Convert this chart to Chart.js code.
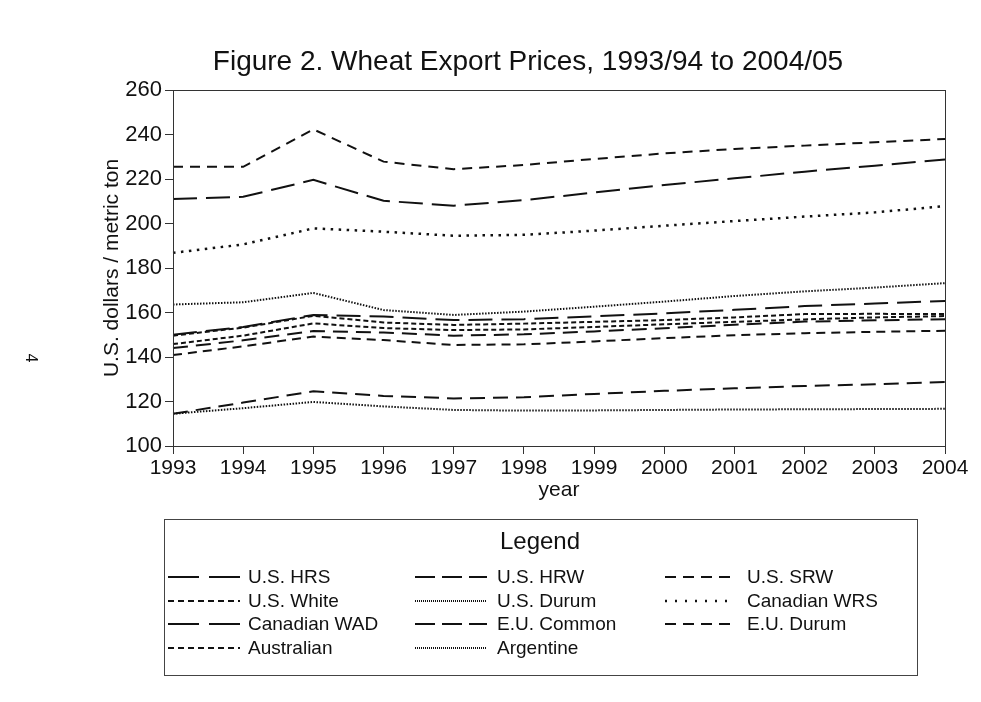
<!DOCTYPE html>
<html>
<head>
<meta charset="utf-8">
<script src="https://cdn.jsdelivr.net/npm/chart.js@4.4.0/dist/chart.umd.min.js"></script>
<style>
    html, body { margin: 0; padding: 0; background: #fff; }
    #wrap { width: 981px; height: 702px; position: relative; }
</style>
</head>
<body>
<div id="wrap"><canvas id="wheatChart"></canvas></div>
<script>
// Wheat export prices, US$ / metric ton

var years = ['1993', '1994', '1995', '1996', '1997', '1998', '1999', '2000', '2001', '2002', '2003', '2004'];
var yTicks = [100, 120, 140, 160, 180, 200, 220, 240, 260];

var usHRS       = [150, 153.5, 158.9, 158.2, 156.6, 157, 158.3, 159.6, 161.2, 162.9, 164, 165.2];
var usHRW       = [144, 147.5, 151.7, 151, 149.6, 150.2, 151.5, 152.9, 154.5, 155.9, 156.5, 157];
var usSRW       = [140.9, 144.8, 149.2, 147.6, 145.4, 145.7, 147, 148.5, 149.8, 150.7, 151.3, 151.8];
var usWhite     = [145.8, 149.6, 155.1, 153, 152.1, 152.4, 153.5, 154.7, 155.8, 156.9, 157.8, 158.4];
var usDurum     = [163.6, 164.6, 168.8, 161.1, 158.9, 160.4, 162.6, 164.9, 167.4, 169.5, 171.2, 173.2];
var canadianWRS = [186.8, 190.6, 197.8, 196.3, 194.5, 194.9, 196.8, 199, 201.1, 203.1, 205, 207.8];
var canadianWAD = [211, 212, 219.6, 210.2, 208, 210.5, 213.9, 217.3, 220.3, 223.3, 226, 228.8];
var euCommon    = [114.5, 119.5, 124.6, 122.5, 121.4, 121.9, 123.4, 124.8, 125.9, 127, 127.7, 128.8];
var euDurum     = [225.5, 225.5, 242.3, 227.8, 224.4, 226.3, 229, 231.5, 233.5, 235, 236.5, 238];
var australian  = [149.6, 153.2, 158.5, 155.5, 154.4, 155, 155.8, 156.6, 157.8, 159.3, 159.4, 159.3];
var argentine   = [114.5, 117, 119.8, 117.8, 116.2, 115.9, 116, 116.2, 116.4, 116.5, 116.6, 116.7];

var FONT = '"Liberation Sans", Arial, Helvetica, sans-serif';
var TITLE = 'Figure 2. Wheat Export Prices, 1993/94 to 2004/05';

// line styles: dash in the plot, dash in the legend key
var styles = {
    longDash:  { dash: [24, 9],  key: [31, 10], width: 2 },
    midDash:   { dash: [15, 8],  key: [20, 7],  width: 2 },
    shortDash: { dash: [10, 7],  key: [11, 7],  width: 2 },
    fineDash:  { dash: [5, 3],   key: [6, 4],   width: 2 },
    fineDots:  { dash: [1.5, 1.5], key: [1, 1], width: 2 },
    wideDots:  { dash: [2.5, 5.5], key: [2, 8], width: 2.5 }
};

function line(label, data, style, dash) {
    var s = styles[style];
    return {
        label: label,
        data: data,
        keyDash: s.key,
        borderColor: '#111',
        backgroundColor: '#111',
        borderWidth: s.width,
        borderDash: dash || s.dash,
        borderCapStyle: 'butt',
        pointRadius: 0,
        tension: 0,
        fill: false
    };
}

// title, frame round the plot area
var plotFrame = {
    id: 'plotFrame',
    afterDatasetsDraw: function (chart) {
        var a = chart.chartArea, ctx = chart.ctx;
        ctx.save();
        ctx.strokeStyle = '#333';
        ctx.lineWidth = 1;
        ctx.strokeRect(Math.round(a.left) + 0.5, Math.round(a.top) + 0.5,
            Math.round(a.right - a.left), Math.round(a.bottom - a.top));
        ctx.fillStyle = '#111';
        ctx.font = '28px ' + FONT;
        ctx.textAlign = 'center';
        ctx.textBaseline = 'middle';
        ctx.fillText(TITLE, 528, 62);
        ctx.restore();
    }
};

// boxed legend in three columns below the chart
var legendBox = {
    id: 'legendBox',
    afterDraw: function (chart) {
        var ctx = chart.ctx;
        ctx.save();
        ctx.strokeStyle = '#444';
        ctx.lineWidth = 1;
        ctx.strokeRect(164.5, 519.5, 753, 156);
        ctx.fillStyle = '#111';
        ctx.font = '24px ' + FONT;
        ctx.textAlign = 'center';
        ctx.textBaseline = 'middle';
        ctx.fillText('Legend', 540, 542);

        ctx.font = '19px ' + FONT;
        ctx.textAlign = 'left';
        var colX = [168, 415, 665];
        var keyW = [72, 72, 65];
        var textX = [248, 497, 747];
        var rowY = [577, 601, 624, 648];
        chart.data.datasets.forEach(function (ds, i) {
            var c = i % 3, r = Math.floor(i / 3);
            ctx.strokeStyle = '#111';
            ctx.lineWidth = ds.borderWidth;
            ctx.setLineDash(ds.keyDash);
            ctx.beginPath();
            ctx.moveTo(colX[c], rowY[r]);
            ctx.lineTo(colX[c] + keyW[c], rowY[r]);
            ctx.stroke();
            ctx.setLineDash([]);
            ctx.fillText(ds.label, textX[c], rowY[r] + 1);
        });

        // page number in the margin
        ctx.save();
        ctx.translate(30, 358);
        ctx.rotate(Math.PI / 2);
        ctx.font = '16px ' + FONT;
        ctx.textAlign = 'center';
        ctx.fillText('4', 0, 0);
        ctx.restore();

        ctx.restore();
    }
};

var ctx = document.getElementById('wheatChart').getContext('2d');
var myChart = new Chart(ctx, {
    type: 'line',
    data: {
        labels: years,
        datasets: [
            line('U.S. HRS', usHRS, 'longDash'),
            line('U.S. HRW', usHRW, 'midDash'),
            line('U.S. SRW', usSRW, 'shortDash', [9, 6]),
            line('U.S. White', usWhite, 'fineDash'),
            line('U.S. Durum', usDurum, 'fineDots'),
            line('Canadian WRS', canadianWRS, 'wideDots'),
            line('Canadian WAD', canadianWAD, 'longDash'),
            line('E.U. Common', euCommon, 'midDash'),
            line('E.U. Durum', euDurum, 'shortDash'),
            line('Australian', australian, 'fineDash'),
            line('Argentine', argentine, 'fineDots')
        ]
    },
    options: {
        responsive: true,
        maintainAspectRatio: false,
        animation: false,
        layout: {
            padding: { top: 90, left: 0, right: 36, bottom: 186 }
        },
        plugins: {
            legend: { display: false },
            tooltip: { enabled: false },
            title: { display: false }
        },
        scales: {
            x: {
                type: 'category',
                offset: false,
                afterFit: function (scale) { scale.height = 70; },
                grid: {
                    drawOnChartArea: false,
                    drawTicks: true,
                    tickLength: 8,
                    color: '#333'
                },
                border: { display: true, color: '#333', width: 1 },
                ticks: {
                    color: '#111',
                    padding: 2,
                    maxRotation: 0,
                    autoSkip: false,
                    font: { family: FONT, size: 21 }
                },
                title: {
                    display: true,
                    text: 'year',
                    color: '#111',
                    font: { family: FONT, size: 21 },
                    padding: { top: 0, bottom: 13 }
                }
            },
            y: {
                min: 100,
                max: 260,
                afterFit: function (scale) { scale.width = 173; },
                afterBuildTicks: function (scale) {
                    scale.ticks = yTicks.map(function (v) { return { value: v }; });
                },
                grid: {
                    drawOnChartArea: false,
                    drawTicks: true,
                    tickLength: 8,
                    color: '#333'
                },
                border: { display: true, color: '#333', width: 1 },
                ticks: {
                    color: '#111',
                    padding: 3,
                    font: { family: FONT, size: 22 }
                },
                title: {
                    display: true,
                    text: 'U.S. dollars / metric ton',
                    color: '#111',
                    font: { family: FONT, size: 21 },
                    padding: { top: 100, bottom: 0 }
                }
            }
        }
    },
    plugins: [plotFrame, legendBox]
});
</script>
</body>
</html>
